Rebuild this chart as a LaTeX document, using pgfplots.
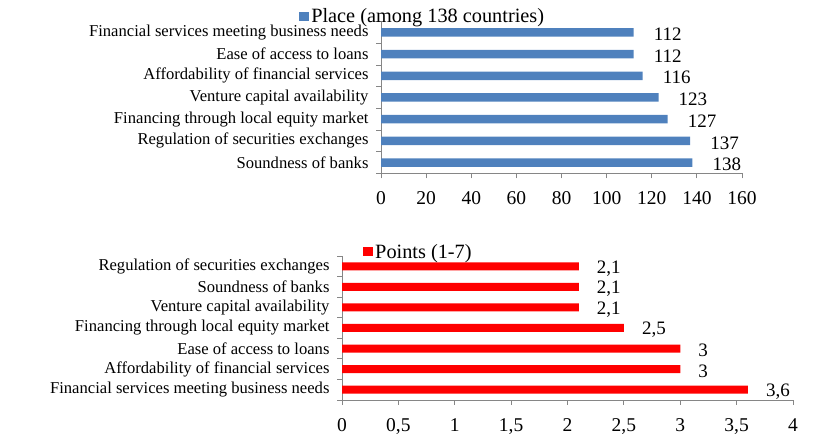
\documentclass[border=0pt]{standalone}
\usepackage{fontspec}
\setmainfont{Liberation Serif}
\usepackage{pgfplots}
\pgfplotsset{compat=1.18}
\definecolor{barblue}{RGB}{79,129,189}
\definecolor{barred}{RGB}{255,0,0}
\definecolor{axgray}{RGB}{134,134,134}

\pgfplotsset{sqlegend/.style={legend image code/.code={\fill[##1] (0pt,-4.5pt) rectangle (10pt,4.5pt);}}}
\pgfplotsset{mystyle/.style={
  scale only axis,
  xbar,
  axis lines*=left,
  axis line style={axgray, line width=0.8pt},
  tick style={axgray, line width=0.8pt},
  tick align=outside,
  major tick length=5pt,
  ymin=-0.5, ymax=6.5,
  ytick={-0.5,0.5,1.5,2.5,3.5,4.5,5.5,6.5},
  yticklabels={},
  extra y ticks={0,1,2,3,4,5,6},
  extra y tick style={tick style={draw=none}},
  /pgf/number format/assume math mode=true,
  x tick label style={font=\fontsize{19.5}{21}\selectfont, text=black, yshift=-10pt},
  y tick label style={font=\fontsize{16.6}{18}\selectfont, text=black, xshift=-4pt},
  nodes near coords,
  every node near coord/.append style={font=\fontsize{19}{21}\selectfont, text=black, anchor=west, inner sep=0pt},
  legend style={draw=none, fill=none, inner sep=0pt, font=\fontsize{20.3}{22}\selectfont, legend cell align=left},
}}

\begin{document}
\begin{tikzpicture}
\useasboundingbox (0pt,0pt) rectangle (829pt,438pt);
\begin{axis}[mystyle,
  at={(381pt,264.5pt)}, anchor=south west,
  width=361pt, height=152pt,
  xmin=0, xmax=160, xtick={0,20,...,160},
  bar width=8.5pt,
  extra y tick labels={Soundness of banks, Regulation of securities exchanges, Financing through local equity market, Venture capital availability, Affordability of financial services, Ease of access to loans, Financial services meeting business needs},
  every node near coord/.append style={xshift=20pt, yshift=-2pt},
  legend style={at={(-0.227,1.036)}, anchor=west},
]
\addplot[fill=barblue, draw=none, sqlegend]
  coordinates {(138,0) (137,1) (127,2) (123,3) (116,4) (112,5) (112,6)};
\legend{Place (among 138 countries)}
\end{axis}

\begin{axis}[mystyle,
  at={(342pt,38pt)}, anchor=south west,
  width=451pt, height=144pt,
  xmin=0, xmax=4, xtick={0,0.5,...,4},
  /pgf/number format/use comma,
  bar width=8pt,
  extra y tick labels={Financial services meeting business needs, Affordability of financial services, Ease of access to loans, Financing through local equity market, Venture capital availability, Soundness of banks, Regulation of securities exchanges},
  every node near coord/.append style={xshift=18pt, yshift=-2pt},
  legend style={at={(0.0466,1.028)}, anchor=west},
]
\addplot[fill=barred, draw=none, sqlegend]
  coordinates {(3.6,0) (3,1) (3,2) (2.5,3) (2.1,4) (2.1,5) (2.1,6)};
\legend{Points (1-7)}
\end{axis}
\end{tikzpicture}
\end{document}
